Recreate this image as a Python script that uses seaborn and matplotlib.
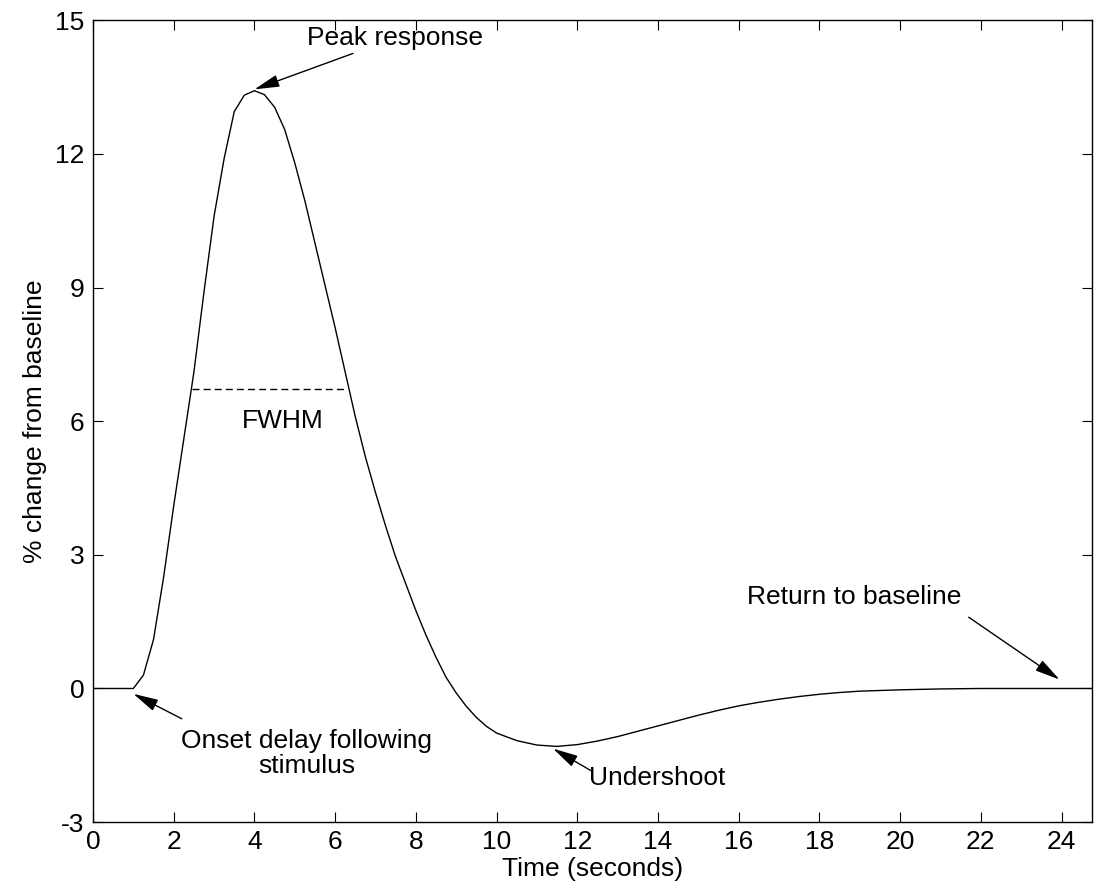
import seaborn as sns
from matplotlib import pyplot as plt

# BOLD haemodynamic response
time_s = [0, 0.5, 1.0, 1.25, 1.5, 1.75, 2.0, 2.25, 2.5, 2.75, 3.0, 3.25,
          3.5, 3.75, 4.0, 4.25, 4.5, 4.75, 5.0, 5.25, 5.5, 5.75, 6.0, 6.25,
          6.5, 6.75, 7.0, 7.25, 7.5, 7.75, 8.0, 8.25, 8.5, 8.75, 9.0, 9.25,
          9.5, 9.75, 10.0, 10.5, 11.0, 11.5, 12.0, 12.5, 13.0, 13.5, 14.0,
          14.5, 15.0, 15.5, 16.0, 16.5, 17.0, 17.5, 18.0, 18.5, 19.0, 20.0,
          21.0, 22.0, 23.0, 24.0, 24.75]
bold_pct = [0, 0, 0.0, 0.3, 1.1, 2.5, 4.1, 5.6, 7.1, 8.9, 10.6, 11.9,
            12.95, 13.32, 13.42, 13.33, 13.05, 12.55, 11.8, 10.95, 10.0, 9.05,
            8.1, 7.1, 6.1, 5.2, 4.4, 3.65, 2.95, 2.35, 1.75, 1.2, 0.7, 0.25,
            -0.1, -0.4, -0.65, -0.85, -1.0, -1.17, -1.27, -1.3, -1.26, -1.18,
            -1.08, -0.96, -0.84, -0.72, -0.6, -0.49, -0.39, -0.31, -0.24,
            -0.18, -0.13, -0.09, -0.06, -0.03, -0.01, 0, 0, 0, 0]

# full width at half maximum marker
fwhm_x = [2.46, 6.26]
fwhm_y = [6.72, 6.72]

x_ticks = list(range(0, 25, 2))
y_ticks = [-3, 0, 3, 6, 9, 12, 15]

sns.set_style("ticks")
plt.rcParams['font.family'] = ['Liberation Sans', 'DejaVu Sans']
plt.rcParams['xtick.direction'] = 'in'
plt.rcParams['ytick.direction'] = 'in'
plt.rcParams['axes.unicode_minus'] = False
plt.rcParams['text.color'] = 'black'
plt.rcParams['axes.labelcolor'] = 'black'

fig, ax = plt.subplots(figsize=(10.94, 8.84), dpi=100)
fig.subplots_adjust(left=0.085, right=0.998, bottom=0.070, top=0.977)

sns.lineplot(x=time_s, y=bold_pct, color='black', linewidth=1.0, ax=ax)
ax.plot(fwhm_x, fwhm_y, color='black', linestyle=(0, (5, 3)), linewidth=1.0)

ax.set_xlim(0, 24.75)
ax.set_ylim(-3, 15)
ax.set_xticks(x_ticks)
ax.set_yticks(y_ticks)
ax.tick_params(labelsize=19, length=7, width=0.8, top=True, right=True,
               pad=6, colors='black')
for side in ['top', 'right', 'left', 'bottom']:
    ax.spines[side].set_visible(True)
    ax.spines[side].set_linewidth(1.0)
    ax.spines[side].set_color('black')

ax.set_xlabel("Time (seconds)", fontsize=19, labelpad=2)
ax.set_ylabel("% change from baseline", fontsize=19, labelpad=6)

arrow = dict(arrowstyle='-|>,head_length=0.9,head_width=0.22', color='black',
             lw=1.0, shrinkA=0, shrinkB=0, mutation_scale=17)
fs = 19

ax.annotate("Peak response", xy=(4.0, 13.45), xytext=(5.3, 14.6),
            fontsize=fs, ha='left', va='center', arrowprops=arrow)
ax.text(4.7, 6.0, "FWHM", fontsize=fs, ha='center', va='center')
ax.text(5.3, -1.45, "Onset delay following\nstimulus", fontsize=fs,
        ha='center', va='center', linespacing=1.05)
ax.annotate("", xy=(1.0, -0.12), xytext=(2.2, -0.68), arrowprops=arrow)
ax.text(12.3, -2.0, "Undershoot", fontsize=fs, ha='left', va='center')
ax.annotate("", xy=(11.4, -1.35), xytext=(12.35, -1.85), arrowprops=arrow)
ax.text(16.2, 2.05, "Return to baseline", fontsize=fs, ha='left', va='center')
ax.annotate("", xy=(23.95, 0.2), xytext=(21.7, 1.6), arrowprops=arrow)

plt.savefig("out.png", dpi=100)
